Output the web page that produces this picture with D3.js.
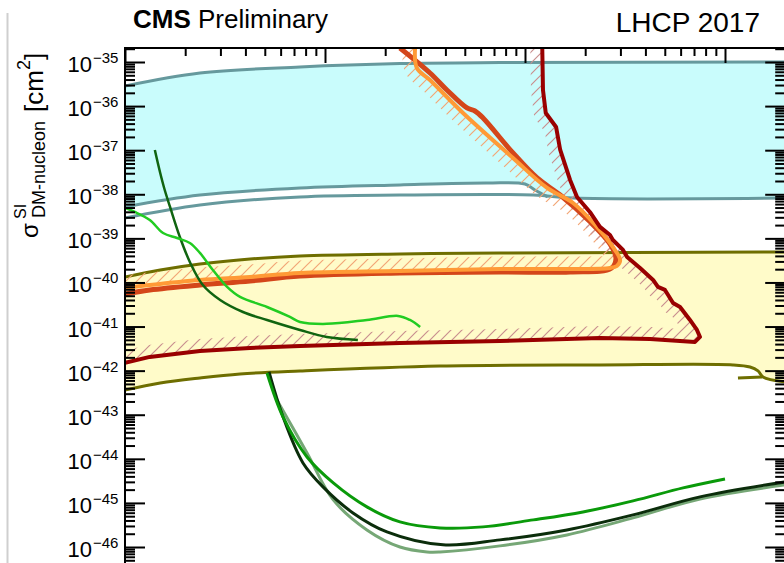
<!DOCTYPE html>
<html>
<head>
<meta charset="utf-8">
<script src="https://cdn.jsdelivr.net/npm/d3@7"></script>
<style>
body { margin: 0; background: #fff; }
svg { display: block; font-family: "Liberation Sans", Arial, Helvetica, sans-serif; }
</style>
</head>
<body>
<svg id="chart" width="784" height="563"></svg>
<script>
'use strict';

// [DM mass in GeV, sigma SI in cm^2]
var cyanUpper = [[1, 2.86e-36], [2.37, 5.63e-36], [7.5, 7.7e-36], [23.7, 9.2e-36], [75, 9.7e-36], [2000, 1.0e-35]];
var tealUpper = [[1, 5.15e-39], [2.37, 9.6e-39], [7.5, 1.39e-38], [23.7, 1.63e-38], [64.6, 1.80e-38], [100, 1.71e-38], [112, 1.25e-38], [130, 8.7e-39]];
var tealLower = [[1, 2.9e-39], [2.37, 5.7e-39], [7.5, 8.7e-39], [23.7, 9.6e-39], [110, 9.6e-39], [174, 8.2e-39], [2000, 8.2e-39]];

var oliveUpper = [[1, 1.33e-40], [1.5, 1.92e-40], [2.37, 2.63e-40], [4.22, 3.41e-40], [7.5, 3.99e-40], [23.7, 4.43e-40], [75, 4.67e-40], [2000, 4.92e-40]];
var oliveLower = [[1, 3.65e-43], [1.5, 5.26e-43], [2.37, 6.83e-43], [3.76, 8.41e-43], [7.5, 9.84e-43], [37.6, 1.28e-42], [237, 1.35e-42], [1096, 1.35e-42], [1334, 1.21e-42], [1462, 9.84e-43], [1549, 7.19e-43], [2000, 5.55e-43]];
var oliveStub = [[1161, 6.83e-43], [1531, 7.19e-43]];

var orangeLight = [[28.2, 2.07e-35], [28.8, 7.31e-36], [33.5, 3.91e-36], [49.0, 6.98e-37], [87.1, 6.65e-38], [129, 1.39e-38], [174, 6.35e-39], [229, 1.82e-39], [275, 6.38e-40], [299, 3.24e-40], [288, 2.37e-40], [266, 2.13e-40], [168, 2.02e-40], [75, 2.02e-40], [23.7, 1.82e-40], [7.5, 1.64e-40], [4.22, 1.33e-40], [2.37, 1.14e-40], [1.33, 8.77e-41], [1, 7.5e-41]];
var orangeDark = [[23.7, 2.07e-35], [33.5, 5.63e-36], [40.7, 2.32e-36], [51.3, 9.06e-37], [56.2, 7.74e-37], [61.7, 5.37e-37], [87.1, 8.65e-38], [115, 2.34e-38], [150, 9.6e-39], [211, 2.4e-39], [266, 7.5e-40], [285, 3.5e-40], [270, 2.1e-40], [168, 1.73e-40], [75, 1.73e-40], [23.7, 1.64e-40], [7.5, 1.40e-40], [4.22, 1.08e-40], [2.37, 8.77e-41], [1.33, 6.76e-41], [1, 5.48e-41]];
var darkRed = [[122, 2.1e-35], [123, 2.32e-36], [127, 6.98e-37], [143, 3.36e-37], [150, 1.01e-37], [168, 2.11e-38], [182, 8.69e-39], [211, 3.97e-39], [237, 1.82e-39], [266, 1.19e-39], [275, 9.2e-40], [309, 5.46e-40], [324, 3.79e-40], [376, 2.13e-40], [437, 1.14e-40], [462, 7.91e-41], [501, 6.76e-41], [550, 3.43e-41], [596, 2.78e-41], [668, 1.41e-41], [724, 8.38e-42], [750, 5.81e-42], [708, 4.48e-42], [422, 5.23e-42], [237, 5.51e-42], [75, 4.71e-42], [23.7, 4.25e-42], [7.5, 3.63e-42], [4.22, 3.27e-42], [2.37, 2.80e-42], [1.33, 2.05e-42], [1, 1.50e-42]];

var cdmsLite = [[1.41, 1.01e-37], [1.50, 3.04e-38], [1.58, 1.25e-38], [1.68, 5.15e-39], [1.88, 1.08e-39], [2.11, 2.92e-40], [2.45, 8.77e-41], [2.99, 4.01e-41], [3.89, 2.14e-41], [5.13, 1.41e-41], [7.5, 8.38e-42], [10.2, 5.81e-42], [14.6, 4.97e-42]];
var cresst = [[1, 4.89e-39], [1.12, 3.97e-39], [1.33, 2.61e-39], [1.55, 1.32e-39], [1.82, 1.02e-39], [2.11, 7.87e-40], [2.37, 4.67e-40], [2.75, 1.92e-40], [3.24, 7.91e-41], [3.76, 4.69e-41], [5.13, 2.78e-41], [6.68, 1.65e-41], [7.5, 1.27e-41], [10.2, 1.15e-41], [16.2, 1.41e-41], [23.2, 1.74e-41], [26.6, 1.41e-41], [29.9, 9.8e-42]];

var pandax = [[5.13, 8.87e-43], [6.17, 8.91e-44], [8.13, 1.10e-44], [11.0, 2.84e-45], [16.2, 8.11e-46], [23.7, 3.71e-46], [37.6, 2.71e-46], [61.7, 2.86e-46], [110, 4.12e-46], [195, 6.25e-46], [347, 1.11e-45], [617, 2.19e-45], [1000, 3.50e-45]];
var lux = [[5.25, 9.35e-43], [6.17, 8.91e-44], [7.76, 8.07e-45], [9.77, 2.31e-45], [13.8, 5.93e-46], [20.4, 2.20e-46], [38.9, 1.12e-46], [75, 1.45e-46], [162, 2.44e-46], [347, 5.35e-46], [750, 1.37e-45], [2000, 2.99e-45]];
var xenon = [[5.75, 2.17e-43], [8.13, 1.36e-44], [11.0, 1.17e-45], [16.2, 2.44e-46], [23.7, 1.0e-46], [32.4, 7.74e-47], [37.6, 7.74e-47], [75, 1.06e-46], [162, 1.88e-46], [347, 4.57e-46], [750, 1.23e-45], [2000, 2.56e-45]];

var yExponents = [-35, -36, -37, -38, -39, -40, -41, -42, -43, -44, -45, -46];


var svg = d3.select('#chart');
var frameTop = 48, frameLeft = 125, frameRight = 785.2, frameBottom = 620;

var x = d3.scaleLog().domain([1, 2000]).range([frameLeft, frameRight]);
var y = d3.scaleLog().domain([1e-35, 1e-46]).range([62, 547]);

var smooth = d3.line()
    .x(function(d) { return x(d[0]); })
    .y(function(d) { return y(d[1]); })
    .curve(d3.curveCatmullRom.alpha(0.5));

var jagged = d3.line()
    .x(function(d) { return x(d[0]); })
    .y(function(d) { return y(d[1]); });

function bandPath(upper, lower) {
    var a = smooth(upper);
    var b = smooth(lower.slice().reverse());
    return a + 'L' + b.slice(1) + 'Z';
}

var defs = svg.append('defs');

defs.append('clipPath').attr('id', 'plot')
    .append('rect')
    .attr('x', frameLeft).attr('y', frameTop)
    .attr('width', frameRight - frameLeft).attr('height', frameBottom - frameTop);

function hatch(id, color) {
    defs.append('pattern')
        .attr('id', id)
        .attr('patternUnits', 'userSpaceOnUse')
        .attr('width', 11).attr('height', 11)
        .append('path')
        .attr('d', 'M-2,2 l4,-4 M0,11 l11,-11 M9,13 l4,-4')
        .attr('stroke', color)
        .attr('stroke-width', 1.2);
}
hatch('hatchOrange', '#f2a676');
hatch('hatchRed', '#c98f8f');

// excluded side of each CMS curve: close it through the top-left corner
defs.append('clipPath').attr('id', 'orangeSide')
    .append('path').attr('d', smooth(orangeLight.concat([[1, 1e-34]])) + 'Z');
defs.append('clipPath').attr('id', 'redSide')
    .append('path').attr('d', jagged(darkRed.concat([[1, 1e-34]])) + 'Z');

// faint page border left over from the screenshot
svg.append('line')
    .attr('x1', 7.5).attr('x2', 7.5).attr('y1', 13).attr('y2', 563)
    .attr('stroke', '#cfcfcf').attr('stroke-width', 2);

var plot = svg.append('g').attr('clip-path', 'url(#plot)');

// cyan band, white gap between the teal lines on the left
var cyanBottom = tealUpper.concat(tealLower.filter(function(d) { return d[0] > 130; }));
plot.append('path')
    .attr('d', bandPath(cyanUpper, cyanBottom))
    .attr('fill', '#c9fcfc');

plot.append('path')
    .attr('d', bandPath(oliveUpper, oliveLower))
    .attr('fill', '#fffbc9');

var teal = [cyanUpper, tealUpper, tealLower];
plot.selectAll('.teal')
    .data(teal)
    .enter().append('path')
    .attr('class', 'teal')
    .attr('d', smooth)
    .attr('fill', 'none')
    .attr('stroke', '#66999d')
    .attr('stroke-width', 3);

plot.selectAll('.olive')
    .data([oliveUpper, oliveLower, oliveStub])
    .enter().append('path')
    .attr('class', 'olive')
    .attr('d', smooth)
    .attr('fill', 'none')
    .attr('stroke', '#6e6e00')
    .attr('stroke-width', 3);

// hatched bands on the excluded side
plot.append('g').attr('clip-path', 'url(#orangeSide)')
    .append('path')
    .attr('d', smooth(orangeLight))
    .attr('fill', 'none')
    .attr('stroke', 'url(#hatchOrange)')
    .attr('stroke-width', 25)
    .attr('stroke-linejoin', 'round');

plot.append('g').attr('clip-path', 'url(#redSide)')
    .append('path')
    .attr('d', jagged(darkRed))
    .attr('fill', 'none')
    .attr('stroke', 'url(#hatchRed)')
    .attr('stroke-width', 24)
    .attr('stroke-linejoin', 'round');

plot.append('path')
    .attr('d', smooth(orangeDark))
    .attr('fill', 'none')
    .attr('stroke', '#d4461a')
    .attr('stroke-width', 5)
    .attr('stroke-linejoin', 'round');

plot.append('path')
    .attr('d', smooth(orangeLight))
    .attr('fill', 'none')
    .attr('stroke', '#ff9a36')
    .attr('stroke-width', 4)
    .attr('stroke-linejoin', 'round');

plot.append('path')
    .attr('d', jagged(darkRed))
    .attr('fill', 'none')
    .attr('stroke', '#990000')
    .attr('stroke-width', 4)
    .attr('stroke-linejoin', 'round');

var greens = [
    {data: xenon, color: '#76a776', w: 3},
    {data: lux, color: '#0b2d0b', w: 3},
    {data: pandax, color: '#0a9a0a', w: 3},
    {data: cdmsLite, color: '#106410', w: 2.5},
    {data: cresst, color: '#22cc22', w: 2.5}
];
plot.selectAll('.dd')
    .data(greens)
    .enter().append('path')
    .attr('class', 'dd')
    .attr('d', function(d) { return smooth(d.data); })
    .attr('fill', 'none')
    .attr('stroke', function(d) { return d.color; })
    .attr('stroke-width', function(d) { return d.w; });

// axes: ROOT style ticks inside the frame
var yAxisScale = y.copy()
    .domain([y.invert(frameTop), y.invert(frameBottom)])
    .range([frameTop, frameBottom]);

function isDecade(v) {
    var e = Math.log10(v);
    return Math.abs(e - Math.round(e)) < 1e-6;
}
var yMajor = yExponents.map(function(e) { return Math.pow(10, e); });
var yMinor = yAxisScale.ticks(60).filter(function(v) { return !isDecade(v); });
var xMajor = x.ticks().filter(isDecade);
var xMinor = x.ticks().filter(function(v) { return !isDecade(v); });

function tickAxis(axis, values, size, transform) {
    var g = svg.append('g')
        .attr('transform', transform)
        .call(axis.tickValues(values).tickSize(size).tickFormat(''));
    g.select('.domain').remove();
    g.selectAll('line').attr('stroke', '#000').attr('stroke-width', 2);
    return g;
}

tickAxis(d3.axisLeft(yAxisScale), yMajor, -20, 'translate(' + frameLeft + ',0)');
tickAxis(d3.axisLeft(yAxisScale), yMinor, -10, 'translate(' + frameLeft + ',0)');
tickAxis(d3.axisRight(yAxisScale), yMajor, -20, 'translate(' + frameRight + ',0)');
tickAxis(d3.axisRight(yAxisScale), yMinor, -10, 'translate(' + frameRight + ',0)');
tickAxis(d3.axisTop(x), xMajor, -15, 'translate(0,' + frameTop + ')');
tickAxis(d3.axisTop(x), xMinor, -8, 'translate(0,' + frameTop + ')');

svg.append('rect')
    .attr('x', frameLeft).attr('y', frameTop)
    .attr('width', frameRight - frameLeft).attr('height', frameBottom - frameTop)
    .attr('fill', 'none')
    .attr('stroke', '#000')
    .attr('stroke-width', 2);

// tick labels 10^-n
var labels = svg.selectAll('.ylab')
    .data(yExponents)
    .enter().append('g')
    .attr('class', 'ylab')
    .attr('transform', function(e) { return 'translate(0,' + y(Math.pow(10, e)) + ')'; });
labels.append('text')
    .attr('x', 92).attr('y', 10)
    .attr('text-anchor', 'end')
    .style('font-size', '22px')
    .text('10');
labels.append('text')
    .attr('x', 93).attr('y', 1)
    .style('font-size', '15px')
    .text(function(e) { return '\u2212' + Math.abs(e); });

// y title
var ytitle = svg.append('g');
ytitle.append('text')
    .attr('transform', 'translate(38,238) rotate(-90)')
    .style('font-size', '24px')
    .text('\u03c3');
ytitle.append('text')
    .attr('transform', 'translate(26,219) rotate(-90)')
    .style('font-size', '16px')
    .text('SI');
ytitle.append('text')
    .attr('transform', 'translate(45,218) rotate(-90)')
    .style('font-size', '18px')
    .text('DM-nucleon');
var cm = ytitle.append('text')
    .attr('transform', 'translate(43,112) rotate(-90)')
    .style('font-size', '26px');
cm.append('tspan').text('[cm');
cm.append('tspan').attr('dy', -13).style('font-size', '18px').text('2');
cm.append('tspan').attr('dy', 13).text(']');

// header
var head = svg.append('text')
    .attr('x', 133).attr('y', 28)
    .style('font-size', '26px');
head.append('tspan').style('font-weight', 'bold').text('CMS');
head.append('tspan').text(' Preliminary');

svg.append('text')
    .attr('x', 760).attr('y', 32)
    .attr('text-anchor', 'end')
    .style('font-size', '28px')
    .text('LHCP 2017');
</script>
</body>
</html>
